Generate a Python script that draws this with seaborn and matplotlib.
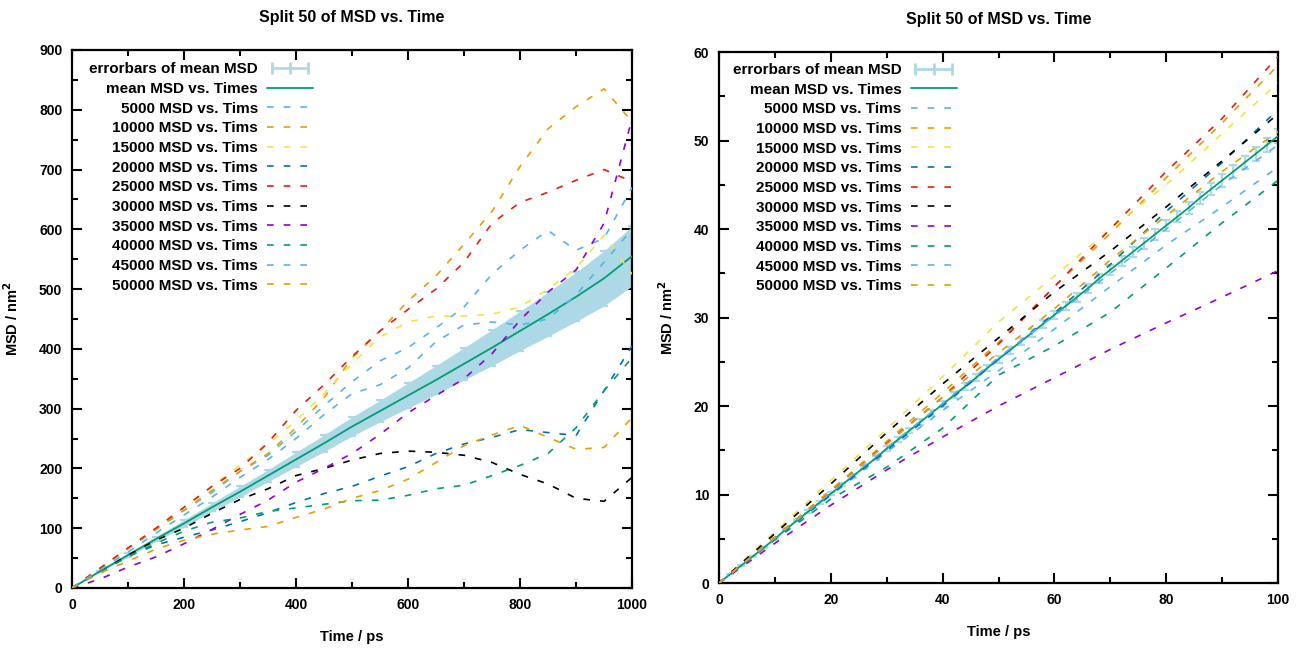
import numpy as np
import pandas as pd
import seaborn as sns
import matplotlib.pyplot as plt
from matplotlib.lines import Line2D
from matplotlib.legend_handler import HandlerLine2D
from matplotlib.ticker import MultipleLocator

sns.set_theme(style="ticks")
plt.rcParams['font.family'] = ['Liberation Sans', 'DejaVu Sans']
plt.rcParams['font.weight'] = 'bold'
plt.rcParams['text.color'] = 'black'
plt.rcParams['axes.labelcolor'] = 'black'

# ---- left panel: 0-1000 ps ----
t_long = [0, 50, 100, 150, 200, 250, 300, 350, 400, 450, 500,
          550, 600, 650, 700, 750, 800, 850, 900, 950, 1000]
long_mean = [0, 28, 55, 82, 108, 135, 161, 188, 215, 242, 270,
             296, 322, 348, 375, 402, 430, 458, 487, 518, 555]
long_err = [0, 1, 3, 4, 6, 7, 9, 10, 12, 14, 16,
            18, 21, 24, 27, 30, 33, 37, 41, 46, 50]
long_5000 = [0, 32, 65, 98, 130, 160, 195, 222, 262, 305, 345,
             380, 402, 435, 470, 525, 565, 598, 565, 585, 670]
long_10000 = [0, 33, 66, 98, 130, 163, 195, 225, 268, 318, 385,
              430, 480, 522, 575, 630, 705, 768, 805, 835, 780]
long_15000 = [0, 33, 66, 100, 135, 170, 205, 240, 280, 325, 375,
              420, 445, 455, 455, 458, 470, 500, 535, 590, 525]
long_20000 = [0, 27, 53, 72, 85, 97, 111, 126, 143, 158, 170,
              187, 203, 225, 241, 252, 265, 260, 255, 330, 405]
long_25000 = [0, 33, 67, 100, 135, 170, 200, 243, 297, 340, 387,
              430, 466, 500, 545, 610, 645, 662, 682, 700, 680]
long_30000 = [0, 27, 55, 80, 100, 125, 148, 166, 188, 200, 214,
              225, 229, 227, 222, 210, 190, 174, 150, 145, 185]
long_35000 = [0, 15, 35, 52, 74, 98, 123, 147, 177, 200, 225,
              257, 293, 322, 350, 392, 448, 495, 532, 610, 785]
long_40000 = [0, 27, 52, 75, 95, 110, 117, 128, 134, 140, 146,
              147, 155, 166, 172, 188, 205, 225, 268, 330, 385]
long_45000 = [0, 30, 60, 92, 122, 152, 185, 215, 250, 290, 325,
              340, 368, 412, 440, 445, 440, 450, 490, 545, 600]
long_50000 = [0, 25, 45, 65, 80, 90, 97, 103, 118, 132, 150,
              163, 182, 210, 238, 256, 272, 252, 232, 235, 285]

# ---- right panel: 0-100 ps ----
t_short = [0, 10, 20, 30, 40, 50, 60, 70, 80, 90, 100]
t_short_mean = [0, 2, 4, 6, 8, 10, 12, 14, 16, 18, 20, 22, 24, 26, 28, 30, 32,
                34, 36, 38, 40, 42, 44, 46, 48, 50, 52, 54, 56, 58, 60, 62, 64,
                66, 68, 70, 72, 74, 76, 78, 80, 82, 84, 86, 88, 90, 92, 94, 96,
                98, 100]
short_mean = [0, 1.0, 2.0, 3.0, 4.0, 5.0, 6.1, 7.1, 8.1, 9.1, 10.1, 11.1, 12.1,
              13.1, 14.1, 15.2, 16.2, 17.2, 18.2, 19.2, 20.2, 21.2, 22.2, 23.2,
              24.3, 25.3, 26.3, 27.3, 28.3, 29.3, 30.3, 31.3, 32.3, 33.3, 34.4,
              35.4, 36.4, 37.4, 38.4, 39.4, 40.4, 41.4, 42.4, 43.5, 44.5, 45.5,
              46.5, 47.5, 48.5, 49.5, 50.5]
short_err = [0, 0.02, 0.03, 0.05, 0.06, 0.08, 0.1, 0.11, 0.13, 0.14, 0.16,
             0.18, 0.19, 0.21, 0.22, 0.24, 0.26, 0.27, 0.29, 0.3, 0.32, 0.34,
             0.35, 0.37, 0.38, 0.4, 0.42, 0.43, 0.45, 0.46, 0.48, 0.5, 0.51,
             0.53, 0.54, 0.56, 0.58, 0.59, 0.61, 0.62, 0.64, 0.66, 0.67, 0.69,
             0.7, 0.72, 0.74, 0.75, 0.77, 0.78, 0.8]
short_5000 = [0, 5.0, 9.9, 14.8, 19.5, 24.0, 28.7, 33.5, 38.2, 42.5, 47.0]
short_10000 = [0, 5.2, 10.5, 16.0, 21.5, 27.2, 33.5, 39.5, 45.8, 52.0, 58.5]
short_15000 = [0, 5.8, 11.6, 17.4, 23.3, 29.5, 34.7, 40.0, 45.0, 50.8, 56.5]
short_20000 = [0, 5.0, 10.0, 15.0, 20.0, 25.3, 30.5, 36.0, 42.0, 47.5, 53.5]
short_25000 = [0, 5.2, 10.4, 15.8, 21.0, 27.0, 33.5, 40.0, 46.5, 52.5, 59.5]
short_30000 = [0, 5.6, 11.2, 17.0, 22.5, 27.7, 32.9, 37.5, 42.5, 47.7, 53.0]
short_35000 = [0, 4.5, 8.8, 12.8, 16.5, 20.0, 23.2, 26.4, 29.4, 32.3, 35.3]
short_40000 = [0, 4.9, 9.5, 13.1, 17.5, 23.5, 26.8, 30.6, 35.6, 40.7, 45.5]
short_45000 = [0, 5.1, 10.2, 15.3, 20.3, 25.5, 30.2, 35.0, 40.0, 45.0, 49.5]
short_50000 = [0, 5.2, 10.5, 15.7, 21.0, 26.0, 31.0, 36.5, 41.5, 46.5, 51.0]

labels = ["5000", "10000", "15000", "20000", "25000",
          "30000", "35000", "40000", "45000", "50000"]
colors = ["#56b4e9", "#e69f00", "#f0e442", "#0072b2", "#e51e10",
          "black", "#9400d3", "#009e73", "#56b4e9", "#e69f00"]
ERR_C = "#add8e6"
MEAN_C = "#009e73"

long_series = [long_5000, long_10000, long_15000, long_20000, long_25000,
               long_30000, long_35000, long_40000, long_45000, long_50000]
short_series = [short_5000, short_10000, short_15000, short_20000, short_25000,
                short_30000, short_35000, short_40000, short_45000, short_50000]


def draw_panel(ax, t, series, tm, mean, err, band, xmax, ymax,
               xmaj, xmin, ymaj, ymin, leg_anchor):
    tm = np.asarray(tm)
    mean = np.asarray(mean)
    err = np.asarray(err)
    if band:
        ax.fill_between(tm, mean - err, mean + err, color=ERR_C, lw=0, zorder=1)
    ax.errorbar(tm, mean, yerr=err, fmt="none", ecolor=ERR_C,
                elinewidth=1.6, capsize=3, capthick=1.6, zorder=1.5)
    # gnuplot-like key sample for the errorbars: line with ticks
    eb_key = Line2D([], [], color=ERR_C, lw=2.0, marker="|",
                    markersize=9, markeredgewidth=2.0)

    sns.lineplot(x=tm, y=mean, ax=ax, color=MEAN_C, lw=1.3,
                 errorbar=None, legend=False, zorder=3)
    mean_line = ax.lines[-1]

    df = pd.DataFrame({"t": t})
    handles = [eb_key, mean_line]
    texts = ["errorbars of mean MSD", "mean MSD vs. Times"]
    for lab, col, vals in zip(labels, colors, series):
        df[lab] = vals
        sns.lineplot(data=df, x="t", y=lab, ax=ax, color=col, lw=1.2,
                     linestyle=(0, (4, 6)), errorbar=None, legend=False,
                     zorder=4)
        handles.append(ax.lines[-1])
        texts.append(f"{lab} MSD vs. Tims")

    ax.set_xlim(0, xmax)
    ax.set_ylim(0, ymax)
    ax.xaxis.set_major_locator(MultipleLocator(xmaj))
    ax.xaxis.set_minor_locator(MultipleLocator(xmin))
    ax.yaxis.set_major_locator(MultipleLocator(ymaj))
    ax.yaxis.set_minor_locator(MultipleLocator(ymin))
    ax.tick_params(which="both", direction="in", top=True, right=True,
                   width=1.5, colors="black", labelsize=10, pad=7)
    ax.tick_params(which="major", length=7)
    ax.tick_params(which="minor", length=4)
    for lab in ax.get_xticklabels() + ax.get_yticklabels():
        lab.set_fontweight("bold")
    for s in ax.spines.values():
        s.set_visible(True)
        s.set_linewidth(1.6)
        s.set_color("black")

    ax.set_title("Split 50 of MSD vs. Time", fontsize=11.5,
                 fontweight="bold", pad=20)
    ax.set_xlabel("Time / ps", fontsize=10.5, fontweight="bold", labelpad=13)
    ax.set_ylabel("MSD / nm$^\\mathbf{2}$", fontsize=10.5, fontweight="bold",
                  labelpad=13)

    ax.legend(handles, texts, loc="upper right", bbox_to_anchor=leg_anchor,
              frameon=False, markerfirst=False, handlelength=3.0,
              handletextpad=0.6, labelspacing=0.37, borderpad=0,
              borderaxespad=0, prop={"weight": "bold", "size": 11},
              handler_map={eb_key: HandlerLine2D(numpoints=3)})


fig = plt.figure(figsize=(12.97, 6.5), dpi=100)
ax1 = fig.add_axes([0.0555, 0.0954, 0.4318, 0.8277])
ax2 = fig.add_axes([0.5544, 0.103, 0.431, 0.817])

draw_panel(ax1, t_long, long_series, t_long, long_mean, long_err, True,
           1000, 900, 200, 100, 100, 50, (0.43, 0.977))
draw_panel(ax2, t_short, short_series, t_short_mean, short_mean, short_err,
           False, 100, 60, 20, 10, 10, 5, (0.425, 0.979))

fig.savefig("out.png", dpi=100)
